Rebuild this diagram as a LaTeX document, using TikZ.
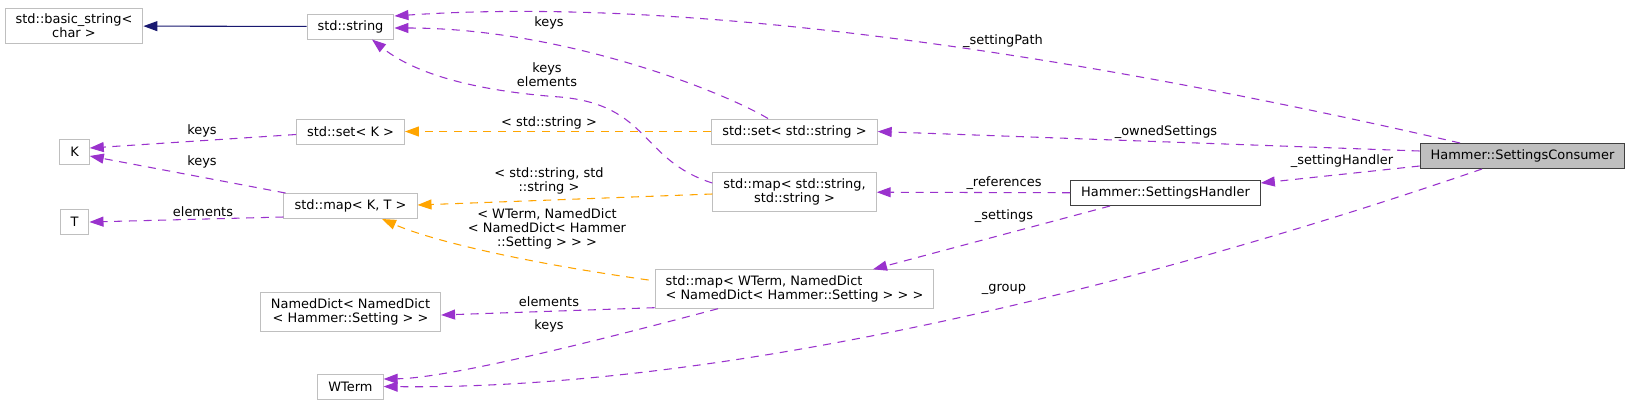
\documentclass[tikz,border=0pt]{standalone}
\usepackage{fontspec}
\setmainfont{DejaVu Sans}
\usepackage{tikz}
\usetikzlibrary{arrows.meta}
\definecolor{mbrcol}{HTML}{9A32CD}
\definecolor{tplcol}{HTML}{FFA500}
\definecolor{inhcol}{HTML}{191970}
\definecolor{boxcol}{HTML}{BFBFBF}
\definecolor{darkcol}{HTML}{404040}
\tikzset{
  % a class box
  cls/.style   = {draw=boxcol, line width=0.75pt, rectangle, align=center,
                  inner xsep=7.9pt, inner ysep=4.4pt, minimum height=18.75pt,
                  font=\fontsize{9.7}{10.6}\selectfont},
  % a documented class
  dcls/.style  = {cls, draw=darkcol},
  % the class the graph is drawn for
  hilit/.style = {dcls, fill=boxcol},
  % a member that uses the class
  mbr/.style   = {-{Triangle[length=10.5pt,width=7.5pt]}, mbrcol, line width=0.8pt,
                  dash pattern=on 6pt off 5pt},
  % a template instance
  tpl/.style   = {mbr, tplcol},
  % public inheritance
  inh/.style   = {-{Triangle[length=10.5pt,width=7.5pt]}, inhcol, line width=0.8pt},
  % an edge label
  el/.style    = {font=\fontsize{9.7}{10.6}\selectfont, align=center,
                  inner sep=0pt, text=black},
}

\begin{document}
\begin{tikzpicture}[x=0.75pt, y=-0.75pt]
  \path[use as bounding box, fill=white] (0,0) rectangle (1632,405);
  % --- left column ---
  \node[cls] (basic) at (74,26)  {std::basic\_string<\\char >};
  \node[cls] (K)     at (74.5,151.5) {K};
  \node[cls] (T)     at (74.5,222)   {T};
  % --- std containers ---
  \node[cls] (string) at (350.5,26.5) {std::string};
  \node[cls] (setK)   at (350.5,131.5) {std::set< K >};
  \node[cls] (mapKT)  at (350.5,206)   {std::map< K, T >};
  \node[cls] (named)  at (350.5,312)   {NamedDict< NamedDict\\< Hammer::Setting > >};
  \node[cls] (wterm)  at (350.5,386.5) {WTerm};
  % --- instances ---
  \node[cls] (setS)  at (794.5,131.5) {std::set< std::string >};
  \node[cls] (mapSS) at (794.5,192)   {std::map< std::string,\\std::string >};
  \node[cls, align=left] (mapWT) at (794.5,289)
    {std::map< WTerm, NamedDict\\< NamedDict< Hammer::Setting > > >};
  % --- Hammer ---
  \node[dcls]  (handler)  at (1165.5,193) {Hammer::SettingsHandler};
  \node[hilit] (consumer) at (1522.5,156) {Hammer::SettingsConsumer};
  % --- relations ---
  \draw[inh] (string) -- (basic);
  \draw[mbr] ([shift={(0,3)}]setK.west) -- ([shift={(0,-3.5)}]K.east)
    node[el] at (202,131) {keys};
  \draw[mbr] ([shift={(2,0)}]mapKT.north west) -- ([shift={(0,4.5)}]K.east)
    node[el] at (202,162) {keys};
  \draw[mbr] ([shift={(0,11)}]mapKT.west) -- (T.east)
    node[el] at (203,212) {elements};
  \draw[tpl] (setS) -- (setK)
    node[el] at (549,123) {< std::string >};
  \draw[tpl] ([shift={(0,2)}]mapSS.west) -- ([shift={(0,-1)}]mapKT.east)
    node[el] at (549,181) {< std::string, std\\::string >};
  \draw[tpl] ([shift={(-6,-9)}]mapWT.west) .. controls (520,262) and (430,240)
    .. ([shift={(31.5,0)}]mapKT.south)
    node[el] at (547,229) {< WTerm, NamedDict\\< NamedDict< Hammer\\::Setting > > >};
  \draw[mbr] ([shift={(-26.5,0)}]setS.north) .. controls (720,90) and (560,28)
    .. ([shift={(0,1.5)}]string.east)
    node[el] at (549,23) {keys};
  \draw[mbr] ([shift={(0,-9)}]mapSS.west) .. controls (640,160) and (650,105) .. (560,97)
    .. controls (490,92) and (420,78) .. ([shift={(21.5,0)}]string.south)
    node[el] at (547,75) {keys\\elements};
  \draw[mbr] ([shift={(-62.5,0)}]consumer.north) .. controls (1100,60) and (700,-5)
    .. ([shift={(0,-10.5)}]string.east)
    node[el] at (1003,41) {\_settingPath};
  \draw[mbr] ([shift={(0,-5)}]consumer.west) -- (setS.east)
    node[el] at (1166,132) {\_ownedSettings};
  \draw[mbr] ([shift={(0,10)}]consumer.west) -- ([shift={(0,-10)}]handler.east)
    node[el] at (1342,161) {\_settingHandler};
  \draw[mbr] (handler) -- (mapSS)
    node[el] at (1004,183) {\_references};
  \draw[mbr] ([shift={(-55.5,0)}]handler.south) -- ([shift={(78.5,0)}]mapWT.north)
    node[el] at (1004,216) {\_settings};
  \draw[mbr] ([shift={(0,-1)}]mapWT.south west) -- ([shift={(0,3)}]named.east)
    node[el] at (549,302) {elements};
  \draw[mbr] ([shift={(-76.5,0)}]mapWT.south) .. controls (600,340) and (450,378)
    .. ([shift={(0,-7.5)}]wterm.east)
    node[el] at (549,326) {keys};
  \draw[mbr] ([shift={(-40.5,0)}]consumer.south) .. controls (1100,300) and (700,390)
    .. (wterm.east)
    node[el] at (1004,289) {\_group};
\end{tikzpicture}
\end{document}
